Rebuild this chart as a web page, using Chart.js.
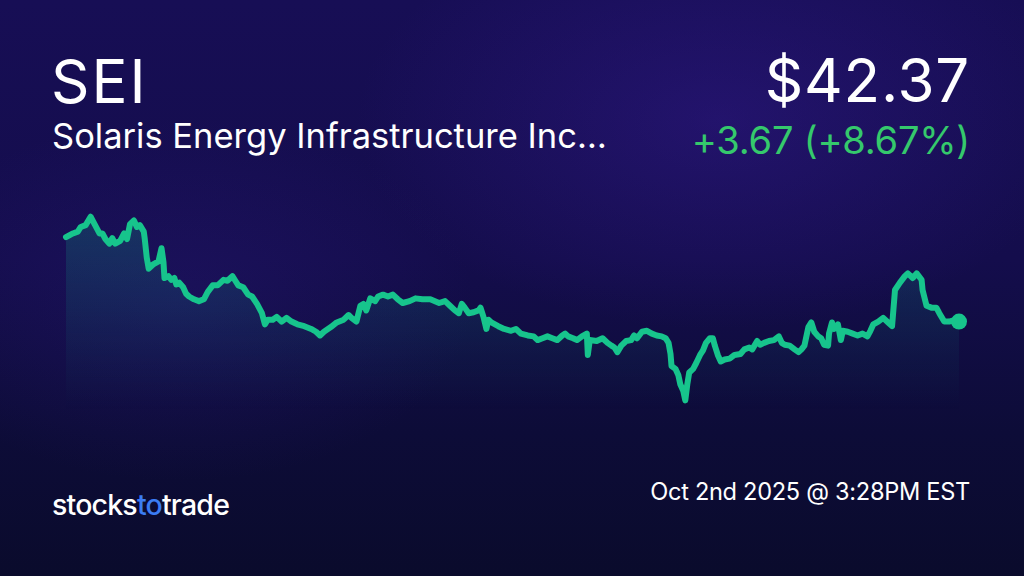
<!DOCTYPE html>
<html>
<head>
<meta charset="utf-8">
<script src="https://cdn.jsdelivr.net/npm/chart.js@4"></script>
<style>
  html, body { margin:0; padding:0; }
  body {
    width:1024px; height:576px; overflow:hidden; position:relative;
    font-family: Inter, "Noto Sans", sans-serif; color:#fff;
    background:
      radial-gradient(ellipse 520px 300px at 720px 120px, rgba(60,30,160,0.35), rgba(60,30,160,0) 70%),
      radial-gradient(ellipse 420px 260px at 180px 300px, rgba(50,30,140,0.25), rgba(50,30,140,0) 70%),
      linear-gradient(180deg, #170e55 0%, #140d4c 45%, #0d0c38 75%, #0a0b2c 100%);
  }
  .txt { position:absolute; white-space:nowrap; line-height:normal; }
  #ticker { left:51px; top:45px; font-size:60px; font-weight:400; letter-spacing:2px; }
  #name { left:52px; top:115px; font-size:34.5px; font-weight:400; letter-spacing:0; }
  #price { right:54px; top:44px; font-size:60px; font-weight:400; letter-spacing:0.8px; }
  #change { right:54px; top:117px; font-size:38px; color:#35c96c; letter-spacing:-0.2px; }
  #logo { left:52px; top:487px; font-size:28.5px; font-weight:500; letter-spacing:-0.8px; }
  #logo span { color:#3b7cf4; }
  #stamp { right:54px; top:477px; font-size:23.6px; letter-spacing:-0.3px; }
  #wrap { position:absolute; left:58px; top:198px; width:909px; height:220px; }
</style>
</head>
<body>
<div class="txt" id="ticker">SEI</div>
<div class="txt" id="name">Solaris Energy Infrastructure Inc…</div>
<div class="txt" id="price">$42.37</div>
<div class="txt" id="change">+3.67 (+8.67%)</div>
<div class="txt" id="logo">stocks<span>to</span>trade</div>
<div class="txt" id="stamp">Oct 2nd 2025 @ 3:28PM EST</div>
<div id="wrap"><canvas id="price-chart"></canvas></div>
<script>
// sample position along the period and the traded price at that sample
const times = [0,7,12,15,20,25,29,34,37,40,44,47,50,55,59,62,65,69,72,75,79,80,82,84,89,94,97,99,100,104,107,110,112,115,119,122,125,130,135,140,144,149,154,160,164,169,172,175,180,185,189,194,199,202,205,210,214,219,224,229,235,242,249,254,258,262,269,275,282,287,290,295,299,302,305,309,314,317,322,327,332,337,342,349,355,362,370,379,385,390,395,399,402,405,409,414,419,421,424,427,429,432,439,445,452,457,462,469,475,479,484,489,494,499,504,507,510,515,519,524,529,530,532,539,545,550,554,557,560,564,569,574,577,580,585,590,595,600,605,609,612,614,615,619,622,624,627,629,631,633,637,640,644,647,650,654,657,659,662,665,669,674,679,685,689,694,697,702,705,709,714,719,724,727,730,735,740,744,747,750,754,757,760,764,767,770,774,775,778,780,784,787,789,794,799,804,809,814,817,820,825,830,835,839,842,847,852,855,860,864,869,870,874,879,884,887,892,897,904,907];
const prices = [46.92,47.12,47.22,47.47,47.57,48.02,47.62,47.12,47.12,46.82,46.57,46.87,46.57,46.72,47.12,46.82,47.62,47.82,47.47,47.57,47.22,46.82,45.82,45.22,45.47,45.62,46.32,45.57,44.72,44.82,44.62,44.72,44.37,44.47,44.22,43.87,43.72,43.57,43.47,43.57,43.97,44.32,44.32,44.62,44.57,44.82,44.57,44.32,44.22,43.82,43.72,43.32,42.82,42.22,42.47,42.47,42.62,42.37,42.57,42.37,42.22,42.12,41.97,41.82,41.62,41.82,42.07,42.32,42.47,42.72,42.57,42.37,43.22,43.32,42.97,43.62,43.47,43.72,43.82,43.72,43.82,43.57,43.37,43.47,43.62,43.57,43.57,43.37,43.47,43.22,42.97,42.82,43.32,43.12,42.82,42.87,42.97,43.12,42.62,41.97,42.47,42.32,42.12,41.97,41.87,41.97,41.72,41.62,41.57,41.37,41.47,41.57,41.47,41.37,41.62,41.72,41.57,41.47,41.37,41.57,41.72,40.57,41.37,41.32,41.47,41.22,41.07,40.97,40.72,41.07,41.32,41.37,41.62,41.47,41.82,41.87,41.72,41.62,41.57,41.47,41.22,40.62,39.97,39.82,39.47,38.97,38.62,38.12,38.97,39.62,39.82,40.12,40.57,40.82,41.22,41.47,41.47,41.07,40.57,40.22,40.32,40.37,40.57,40.62,40.87,40.97,40.87,41.32,41.12,41.22,41.32,41.37,41.57,41.22,41.12,41.07,40.87,40.72,40.87,41.07,42.07,42.32,41.82,41.57,41.47,41.12,41.07,41.72,42.32,41.97,42.22,41.37,41.87,41.82,41.72,41.62,41.72,41.57,41.87,42.22,42.37,42.57,42.32,42.12,44.07,44.47,44.82,44.97,44.72,44.97,44.62,44.07,43.22,43.12,43.12,42.82,42.37,42.37,42.47,42.37];
const priceMin = 37.6;
const priceMax = 48.6;

function set_up_chart(){
    let canvas = document.querySelector("#price-chart");
    let points = times.map((t, i) => ({x: t, y: prices[i]}));
    let last = points.length - 1;
    new Chart(canvas, {
        type: 'line',
        data: {
            datasets: [{
                data: points,
                borderColor: '#17c48c',
                borderWidth: 6,
                borderJoinStyle: 'round',
                borderCapStyle: 'round',
                tension: 0,
                clip: false,
                fill: 'start',
                backgroundColor: (c) => {
                    let area = c.chart.chartArea;
                    if(!area) return 'rgba(23,196,140,0.2)';
                    let g = c.chart.ctx.createLinearGradient(0, area.top, 0, area.bottom);
                    g.addColorStop(0, 'rgba(20,150,130,0.30)');
                    g.addColorStop(0.5, 'rgba(20,120,120,0.18)');
                    g.addColorStop(1, 'rgba(20,100,110,0)');
                    return g;
                },
                pointRadius: (c) => c.dataIndex === last ? 8 : 0,
                pointBackgroundColor: '#17c48c',
                pointBorderWidth: 0,
                pointHoverRadius: 0
            }]
        },
        options: {
            responsive: true,
            maintainAspectRatio: false,
            animation: false,
            layout: { padding: 0 },
            plugins: { legend: { display: false }, tooltip: { enabled: false } },
            scales: {
                x: { type: 'linear', display: false, min: 0, max: times[times.length - 1] },
                y: { display: false, min: priceMin, max: priceMax }
            }
        }
    });
}

set_up_chart()
</script>
</body>
</html>
